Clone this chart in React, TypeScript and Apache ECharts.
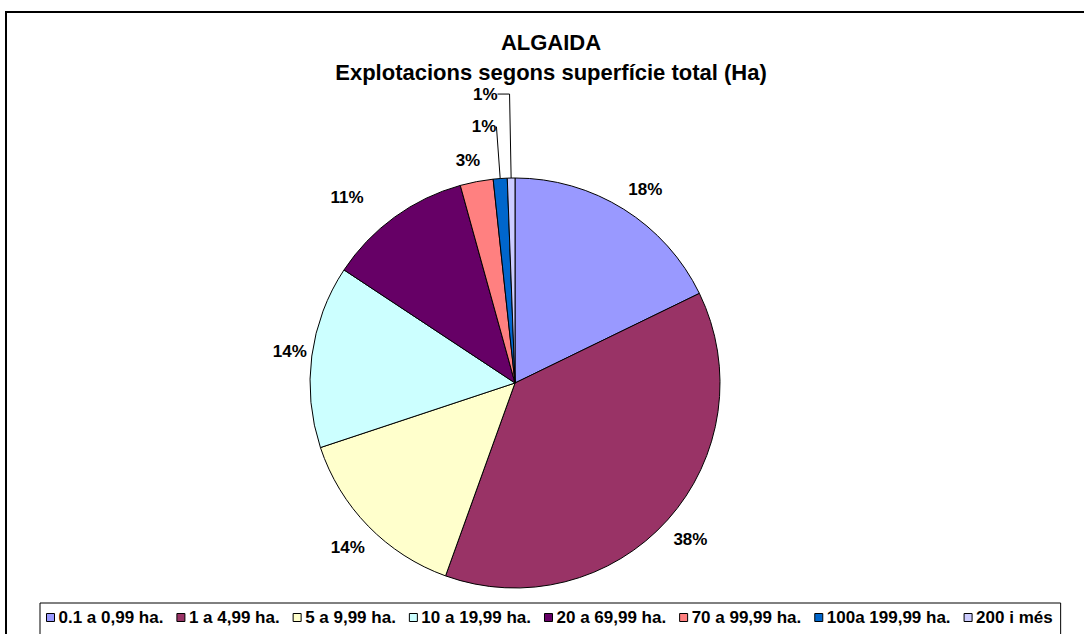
import React, { useEffect, useRef } from "react";
import * as echarts from "echarts";

const categories = [
  "0.1 a 0,99 ha.",
  "1 a 4,99 ha.",
  "5 a 9,99 ha.",
  "10 a 19,99 ha.",
  "20 a 69,99 ha.",
  "70 a 99,99 ha.",
  "100a 199,99 ha.",
  "200 i més",
];
const values = [178, 377, 144, 144, 114, 26, 11, 6];
const colors = ["#9999FF", "#993366", "#FFFFCC", "#CCFFFF", "#660066", "#FF8080", "#0066CC", "#CCCCFF"];
const titleText = "ALGAIDA";
const subtitleText = "Explotacions segons superfície total (Ha)";

const FONT = "'Liberation Sans', Arial, sans-serif";

export default function App() {
  const ref = useRef<HTMLDivElement>(null);
  useEffect(() => {
    if (!ref.current) return;
    const chart = echarts.init(ref.current, null, { renderer: "svg" });
    const lineCfg: any[] = [
      { show: false, length: 16, length2: 0 },
      { show: false, length: 16, length2: 0 },
      { show: false, length: 16, length2: 0 },
      { show: false, length: 10, length2: 0 },
      { show: false, length: 22, length2: 0 },
      { show: false, length: 18, length2: 0 },
      { show: true, length: 52, length2: 0 },
      { show: true, length: 84, length2: 12 },
    ];
    const labelShift = [
      [-9, -6],
      [-11, 9],
      [13, 10],
      [10, -3],
      [-13, -2],
      [12, -3],
      [0, 0],
      [0, 0],
    ];
    const data = values.map((v, i) => ({
      name: categories[i],
      value: v,
      itemStyle: { color: colors[i] },
      labelLine: { ...lineCfg[i], lineStyle: { color: "#000", width: 1 } },
      label: { distanceToLabelLine: i >= 6 ? 0 : 5 },
    }));
    const titleStyle = { fontFamily: FONT, fontWeight: "bold", fontSize: 22, color: "#000", lineHeight: 20 };
    chart.setOption({
      animation: false,
      title: [
        { text: titleText, left: 551, top: 32, textAlign: "center", padding: 0, textStyle: titleStyle },
        { text: subtitleText, left: 551, top: 62, textAlign: "center", padding: 0, textStyle: titleStyle },
      ],
      graphic: [
        {
          type: "rect",
          shape: { x: 6, y: 12, width: 1200, height: 800 },
          style: { fill: "none", stroke: "#000", lineWidth: 2 },
          silent: true,
        },
      ],
      legend: {
        left: 40,
        top: 603,
        orient: "horizontal",
        icon: "rect",
        itemWidth: 8,
        itemHeight: 8,
        itemGap: 13,
        padding: [6, 8, 20, 6],
        borderColor: "#000",
        borderWidth: 1,
        backgroundColor: "#fff",
        itemStyle: { borderColor: "#000", borderWidth: 1 },
        textStyle: { fontFamily: FONT, fontWeight: "bold", fontSize: 17, color: "#000", padding: [0, 0, 0, -1] },
        data: categories,
      },
      series: [
        {
          type: "pie",
          center: [515, 383],
          radius: 205,
          startAngle: 90,
          clockwise: true,
          avoidLabelOverlap: false,
          itemStyle: { borderColor: "#000", borderWidth: 1 },
          label: {
            show: true,
            position: "outside",
            fontFamily: FONT,
            fontWeight: "bold",
            fontSize: 17,
            lineHeight: 16,
            color: "#000",
            formatter: (p: any) => Math.round(p.percent) + "%",
          },
          labelLayout: (p: any) => ({ dx: labelShift[p.dataIndex][0], dy: labelShift[p.dataIndex][1] }),
          emphasis: { disabled: true },
          data,
        },
      ],
    });
    return () => chart.dispose();
  }, []);
  return (
    <div
      ref={ref}
      style={{ position: "fixed", left: 0, top: 0, width: 1084, height: 634, background: "#fff" }}
    />
  );
}
